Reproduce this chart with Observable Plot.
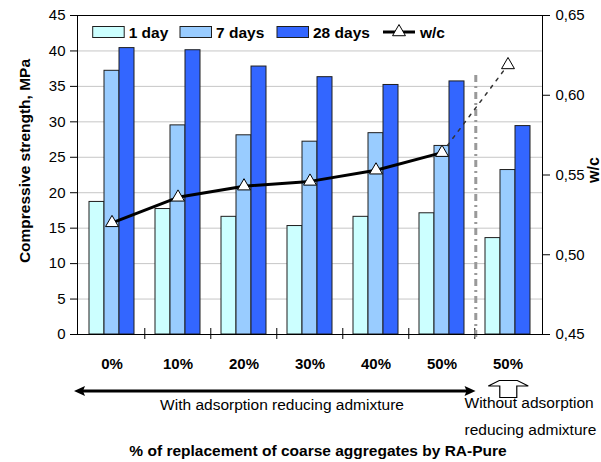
<!DOCTYPE html>
<html><head><meta charset="utf-8">
<script src="https://cdn.jsdelivr.net/npm/d3@7"></script>
<script src="https://cdn.jsdelivr.net/npm/@observablehq/plot@0.6"></script>
<style>
body{margin:0;background:#fff;}
#chart{position:relative;width:601px;height:462px;}
</style>
</head><body><div id="chart"></div>
<script>
// ---- data ----
const groups = ["0%","10%","20%","30%","40%","50%","50% w/o"];
const groupLabels = ["0%","10%","20%","30%","40%","50%","50%"];
const seriesNames = ["1 day","7 days","28 days"];
const day1  = [18.7,17.7,16.6,15.3,16.6,17.1,13.6];
const day7  = [37.2,29.5,28.1,27.2,28.4,26.6,23.2];
const day28 = [40.4,40.1,37.8,36.3,35.2,35.7,29.4];
const wc    = [0.520,0.536,0.543,0.546,0.553,0.564,0.619];
const yTicks = [0,5,10,15,20,25,30,35,40,45];
const wcTicks = [0.45,0.50,0.55,0.60,0.65];

// ---- layout / style ----
const W = 601, H = 462, mL = 77, mR = 59, mT = 15, mB = 128;
const step = (W - mL - mR) / groups.length;
const bw = 15;
const colors = ["#CCFFFF","#99CCFF","#3366FF"];
const offsets = [-15, 0, 15];
const FONT = "Liberation Sans, Arial, sans-serif";
const labelOf = new Map(groups.map((g,i)=>[g, groupLabels[i]]));
const wcMin = 0.45, wcMax = 0.65, yMax = 45;
const wcToY = v => (v - wcMin) / (wcMax - wcMin) * yMax;

const seriesArrays = [day1, day7, day28];
const bars = [];
groups.forEach((g,i)=>seriesArrays.forEach((arr,k)=>bars.push({group:g, series:seriesNames[k], value:arr[i]})));
const wcData = groups.map((g,i)=>({group:g, wc:wc[i]}));

const chart = Plot.plot({
  width: W, height: H,
  marginLeft: mL, marginRight: mR, marginTop: mT, marginBottom: mB,
  style: {fontFamily: FONT, background: "white", color: "black"},
  x: {type: "band", domain: groups, paddingInner: 1 - bw/step, paddingOuter: (1 - bw/step)/2, axis: null},
  y: {domain: [0, yMax], axis: null},
  marks: [
    Plot.gridY(yTicks.slice(1, -1), {stroke: "#c6c6c6", strokeOpacity: 1, strokeWidth: 1}),
    ...seriesNames.map((s,k)=>Plot.barY(bars.filter(d=>d.series===s), {
      x: "group", y: "value", fill: colors[k], stroke: "#1e1e1e", strokeWidth: 1, dx: offsets[k]
    })),
    // bottom ticks at group boundaries
    Plot.ruleX(groups.slice(1), {x: d=>d, dx: -step/2, y1: 0, y2: 0, insetTop: -6, insetBottom: -5, stroke: "black", strokeWidth: 1}),
    // divider
    Plot.ruleX([groups[groups.length-1]], {x: d=>d, dx: -step/2 + 1, y1: 0, y2: yMax, insetTop: 3, insetBottom: -58,
      stroke: "#999", strokeWidth: 3, strokeDasharray: "7,4,2,4"}),
    Plot.frame({stroke: "black", strokeWidth: 1}),
    Plot.line(wcData.slice(0, 6), {x: "group", y: d=>wcToY(d.wc), stroke: "black", strokeWidth: 3}),
    Plot.line(wcData.slice(5), {x: "group", y: d=>wcToY(d.wc), stroke: "#333", strokeWidth: 1.5, strokeDasharray: "3,6"}),
    Plot.dot(wcData, {x: "group", y: d=>wcToY(d.wc), symbol: "triangle", r: 4.8, fill: "white", stroke: "black", strokeWidth: 1}),
    Plot.axisY(yTicks, {anchor: "left", tickSize: 7, tickPadding: 5, fontSize: 15, label: null}),
    Plot.axisY(wcTicks.map(wcToY), {anchor: "right", tickSize: 7, tickPadding: 6, fontSize: 15, label: null,
      tickFormat: t => (wcMin + t / yMax * (wcMax - wcMin)).toFixed(2).replace(".", ",")}),
    Plot.axisX(groups, {anchor: "bottom", tickSize: 0, tickPadding: 24, fontSize: 15, fontWeight: "bold",
      tickFormat: d => labelOf.get(d), label: null}),
    Plot.text(["Compressive strength, MPa"], {text: d=>d, frameAnchor: "left", dx: -52, dy: -14, rotate: -90,
      textAnchor: "middle", fontWeight: "bold", fontSize: 15.5}),
    Plot.text(["w/c"], {text: d=>d, frameAnchor: "right", dx: 51, dy: -5, rotate: -90,
      textAnchor: "middle", fontWeight: "bold", fontSize: 16}),
    Plot.text(["% of replacement of coarse aggregates by RA-Pure"], {text: d=>d, frameAnchor: "bottom", dx: 8, dy: 121,
      fontWeight: "bold", fontSize: 15.5}),
    Plot.text(["With adsorption reducing admixture"], {text: d=>d, frameAnchor: "bottom", dx: -28, dy: 75, fontSize: 15.5}),
    Plot.text(["Without adsorption\nreducing admixture"], {text: d=>d, frameAnchor: "bottom-right", dx: -78, dy: 100,
      textAnchor: "start", lineHeight: 1.73, fontSize: 15.5})
  ]
});

const svg = d3.select(chart);
// arrows
const ay = 391;
const xLeft = mL - 3, xDiv = mL + (groups.length - 1) * step;
svg.append("line").attr("x1", xLeft + 8).attr("x2", xDiv - 8).attr("y1", ay).attr("y2", ay).attr("stroke", "black").attr("stroke-width", 3);
svg.append("path").attr("d", `M${xLeft},${ay} L${xLeft+11},${ay-5} L${xLeft+9},${ay} L${xLeft+11},${ay+5} Z`).attr("fill", "black");
svg.append("path").attr("d", `M${xDiv},${ay} L${xDiv-11},${ay-5} L${xDiv-9},${ay} L${xDiv-11},${ay+5} Z`).attr("fill", "black");
const cx = mL + (groups.length - 0.5) * step - 0.5;
svg.append("path").attr("d",
  `M${cx-20},386 L${cx-9},380.5 L${cx+9},380.5 L${cx+20},386 L${cx+8.5},386 L${cx+8.5},397.5 L${cx-8.5},397.5 L${cx-8.5},386 Z`)
  .attr("fill", "white").attr("stroke", "black").attr("stroke-width", 1.2);

// legend
const lg = svg.append("g").attr("font-family", FONT).attr("font-size", 15.5).attr("font-weight", "bold").attr("text-anchor", "start");
const legendX = [92.7, 180, 277];
seriesNames.forEach((s,k)=>{
  lg.append("rect").attr("x", legendX[k]).attr("y", 26.5).attr("width", 31.5).attr("height", 11)
    .attr("fill", colors[k]).attr("stroke", "#1e1e1e").attr("stroke-width", 1);
  lg.append("text").attr("x", legendX[k] + 36).attr("y", 37.5).text(s);
});
lg.append("line").attr("x1", 383).attr("x2", 415).attr("y1", 32).attr("y2", 32).attr("stroke", "black").attr("stroke-width", 3);
lg.append("path").attr("d", d3.symbol(d3.symbolTriangle, Math.PI * 4.8 * 4.8)()).attr("transform", "translate(399,32)")
  .attr("fill", "white").attr("stroke", "black").attr("stroke-width", 1);
lg.append("text").attr("x", 420).attr("y", 37.5).text("w/c");

document.getElementById("chart").appendChild(chart);
</script>
</body></html>
